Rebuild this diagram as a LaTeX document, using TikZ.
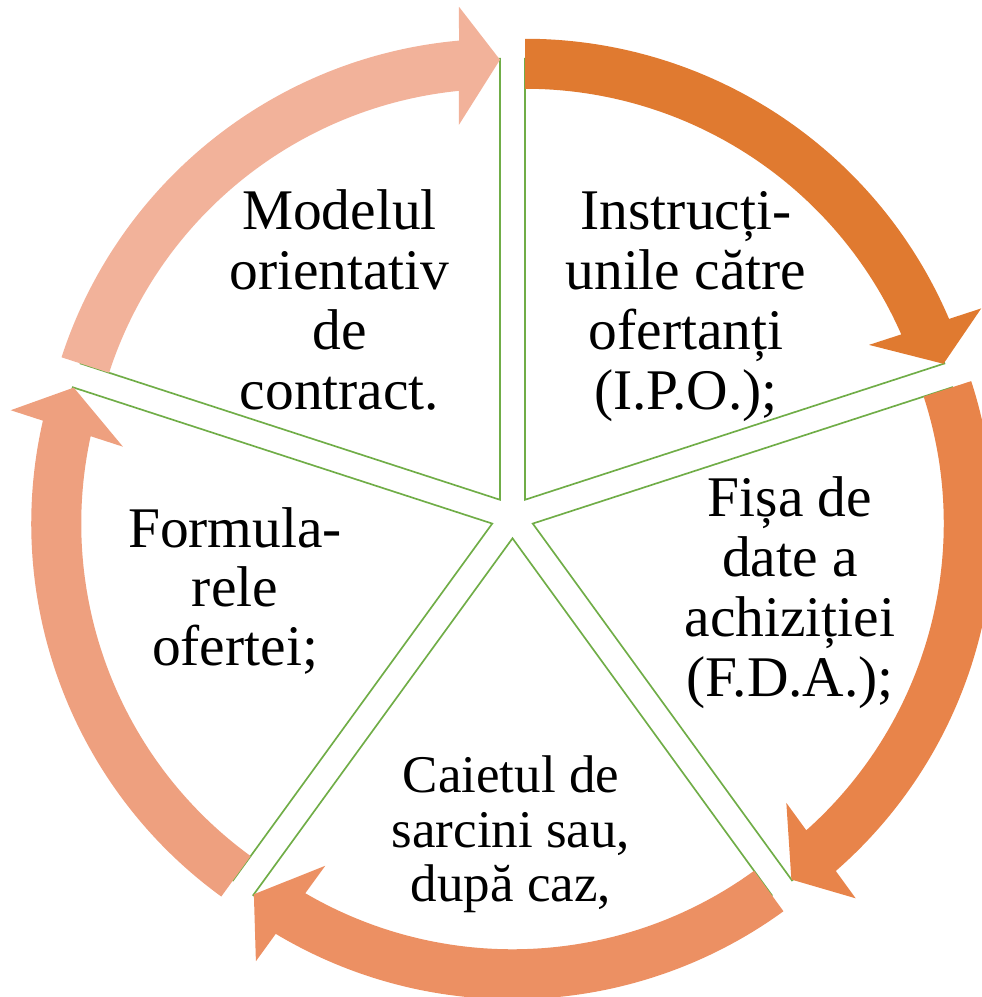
\documentclass[tikz,border=0pt]{standalone}
\usepackage{fontspec}
\setmainfont{Liberation Serif}
\usetikzlibrary{calc}
\definecolor{wgreen}{HTML}{70AD47}
\definecolor{arA}{HTML}{E07A30}
\definecolor{arB}{HTML}{E8844A}
\definecolor{arC}{HTML}{EC9063}
\definecolor{arD}{HTML}{EEA07F}
\definecolor{arE}{HTML}{F2B29A}
\tikzset{
  wedge/.style={draw=wgreen, line width=1.25pt, fill=white, line join=miter},
  txt/.style={anchor=base, inner sep=0pt, font=\fontsize{43.1}{45}\selectfont},
  txtsmall/.style={anchor=base, inner sep=0pt, font=\fontsize{39.75}{41}\selectfont},
}
\newcommand{\cyclearrow}[3]{%
  \fill[#3] ($(#1)+(#2+72:461)$) arc[start angle=#2+72, end angle=#2+5.10, radius=461]
    -- ($(#1)+(#2:493)+(#2+90:41)$) -- ($(#1)+(#2:440)$) -- ($(#1)+(#2:375)+(#2+90:41)$)
    -- ($(#1)+(#2+5.725:411)$) arc[start angle=#2+5.725, end angle=#2+72, radius=411] -- cycle;
}
\newcommand{\cyclewedge}[2]{%
  \draw[wedge] (#1) -- ($(#1)+(#2+72:441)$) arc[start angle=#2+72, end angle=#2, radius=441] -- cycle;
}
\begin{document}
\begin{tikzpicture}[x=0.75pt,y=0.75pt]
\useasboundingbox (0,0) rectangle (982,997);
\coordinate (C) at (512.5,480);
\coordinate (A1) at ($(C)+(54:21.3)$);
\coordinate (A2) at ($(C)+(-18:21.3)$);
\coordinate (A3) at ($(C)+(-90:21.3)$);
\coordinate (A4) at ($(C)+(198:21.3)$);
\coordinate (A5) at ($(C)+(126:21.3)$);
% wedges
\cyclewedge{A1}{18}
\cyclewedge{A2}{-54}
\cyclewedge{A3}{-126}
\cyclewedge{A4}{162}
\cyclewedge{A5}{90}
% arrows
\cyclearrow{A1}{18}{arA}
\cyclearrow{A2}{-54}{arB}
\cyclearrow{A3}{-126}{arC}
\cyclearrow{A4}{162}{arD}
\cyclearrow{A5}{90}{arE}
% texts
\node[txt] (m1) at (339.5,767) {Modelul};
\node[txt] (m2) at (339.5,707) {orientativ};
\node[txt] (m3) at (339.5,647) {de};
\node[txt] (m4) at (339.5,587) {contract.};
\node[txt] (i1) at (686,767) {Instrucți-};
\node[txt] (i2) at (686,707) {unile către};
\node[txt] (i3) at (686,647) {ofertanți};
\node[txt] (i4) at (686,587) {(I.P.O.);};
\node[txt] (f1) at (790,480) {Fișa de};
\node[txt] (f2) at (790,420) {date a};
\node[txt] (f3) at (790,360) {achiziției};
\node[txt] (f4) at (790,300) {(F.D.A.);};
\node[txt] (o1) at (235,449) {Formula-};
\node[txt] (o2) at (235,390) {rele};
\node[txt] (o3) at (235,331) {ofertei;};
\node[txtsmall] (c1) at (511,204) {Caietul de};
\node[txtsmall] (c2) at (511,149) {sarcini sau,};
\node[txtsmall] (c3) at (511,95) {după caz,};
\end{tikzpicture}
\end{document}
